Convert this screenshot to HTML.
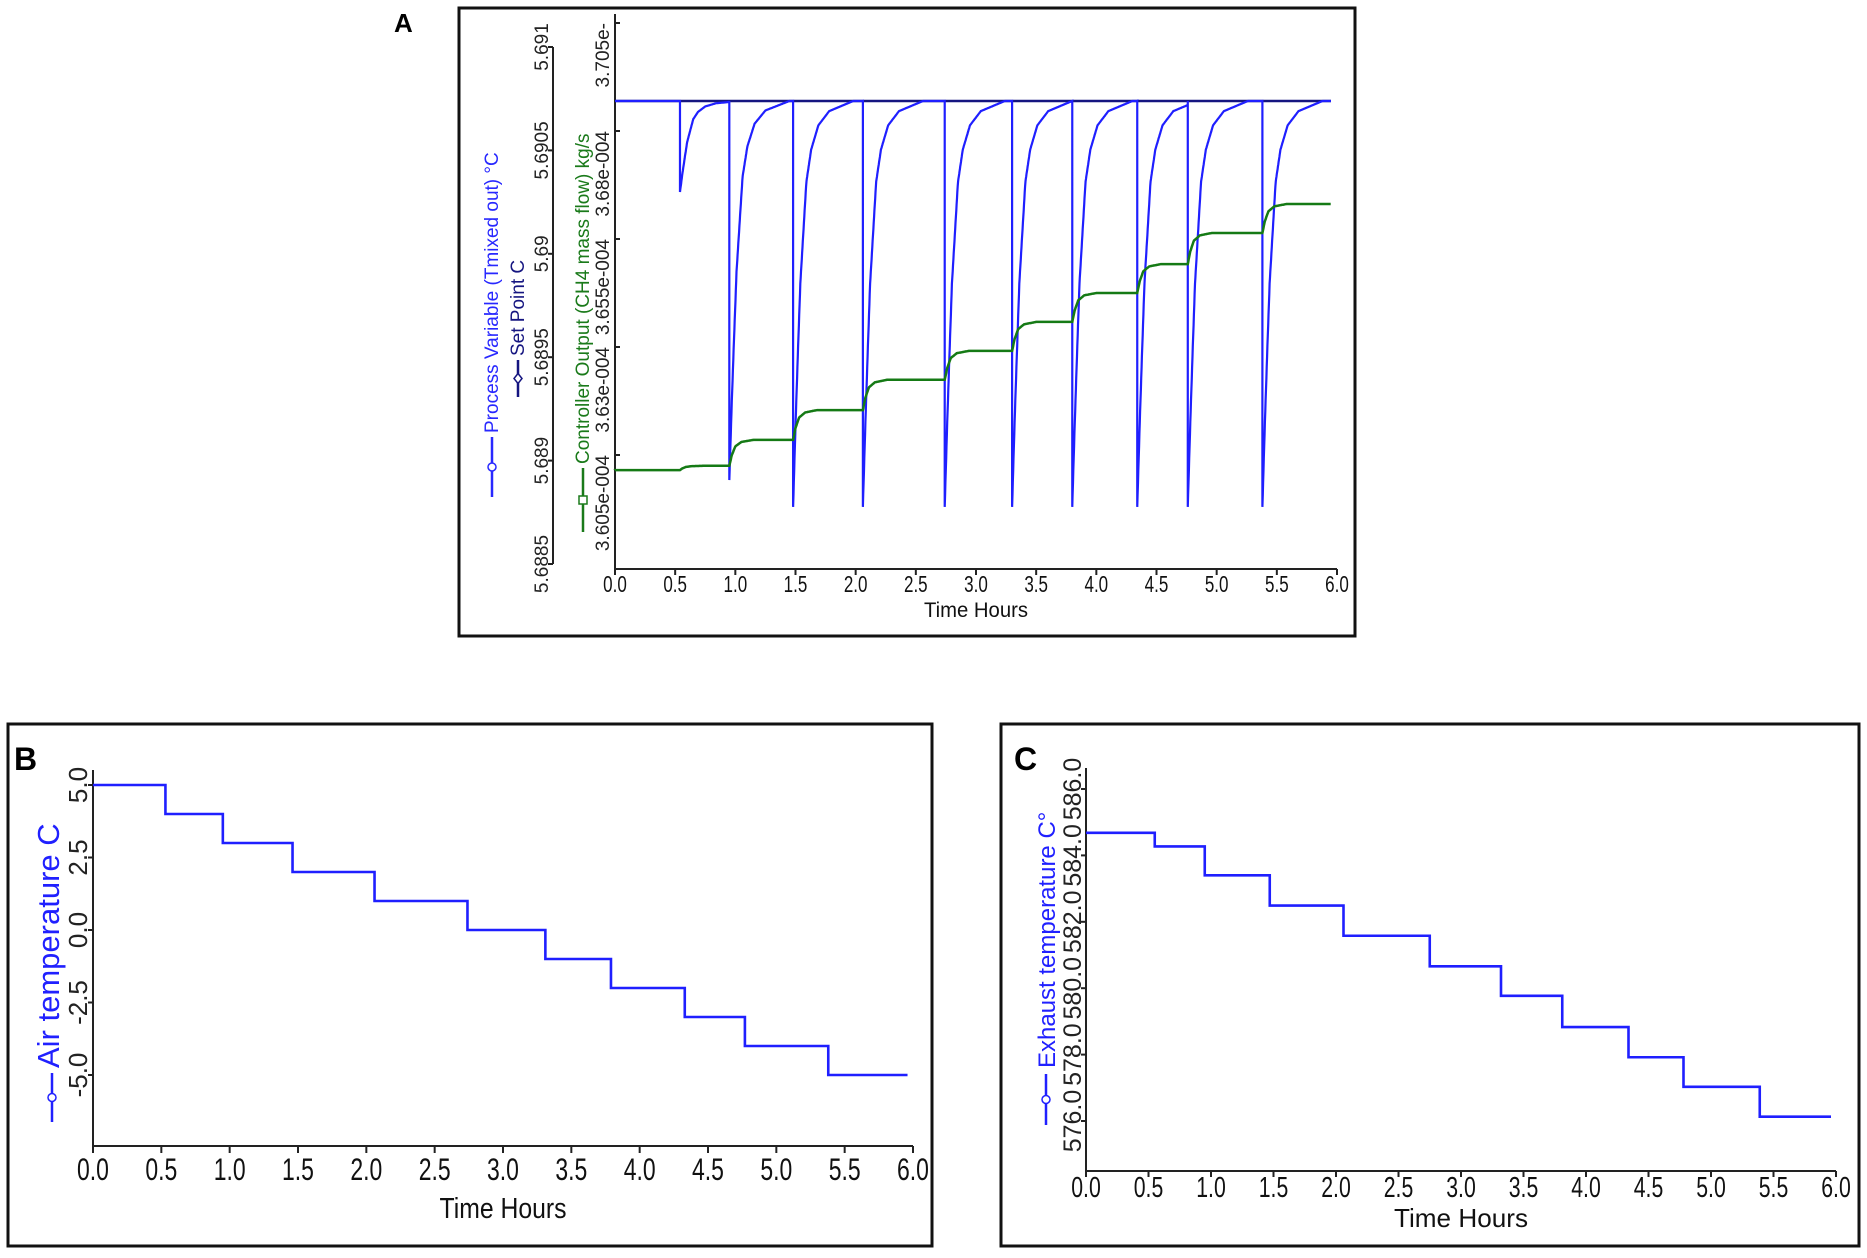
<!DOCTYPE html>
<html><head><meta charset="utf-8"><style>
html,body{margin:0;padding:0;background:#fff;overflow:hidden;}
svg{display:block;font-family:"Liberation Sans",Arial,sans-serif;}
</style></head><body>
<svg id="fig" width="1867" height="1258" viewBox="0 0 1867 1258" xmlns="http://www.w3.org/2000/svg">
<rect x="0" y="0" width="1867" height="1258" fill="#fff"/>
<g id="pA">
<rect x="459" y="8" width="896" height="628" fill="none" stroke="#111" stroke-width="3"/>
<text x="394" y="32" font-size="26" font-weight="bold">A</text>
</g>
<g id="pB">
<rect x="8" y="724" width="924" height="522" fill="none" stroke="#111" stroke-width="3"/>
<text x="14" y="770" font-size="32" font-weight="bold">B</text>
</g>
<g id="pC">
<rect x="1001" y="724" width="858" height="522" fill="none" stroke="#111" stroke-width="3"/>
<text x="1014" y="770" font-size="32" font-weight="bold">C</text>
</g>
</svg>
<script>
// ---- Panel A data ----
const eventTimes = [0.54, 0.95, 1.48, 2.06, 2.74, 3.30, 3.80, 4.34, 4.76, 5.38];
const pvDipMins = [5.690299, 5.688906, 5.688776, 5.688776, 5.688776, 5.688776, 5.688776, 5.688776, 5.688776, 5.688776];
const setPoint = 5.690739;
const recovT = [0, 0.01, 0.02, 0.04, 0.06, 0.09, 0.11, 0.15, 0.21, 0.30, 0.5];
const recovFrac = [1, 0.9, 0.8, 0.62, 0.45, 0.3, 0.2, 0.12, 0.06, 0.025, 0.0];
const greenLevels = [3.6015, 3.6025, 3.6085, 3.6154, 3.6224, 3.6291, 3.6358, 3.6425, 3.6492, 3.6564, 3.6631];
const riseT = [0, 0.02, 0.05, 0.1, 0.2];
const riseFrac = [0, 0.4, 0.75, 0.92, 1];
const xTicks = ["0.0","0.5","1.0","1.5","2.0","2.5","3.0","3.5","4.0","4.5","5.0","5.5","6.0"];
const pvTickLabels = ["5.6885","5.689","5.6895","5.69","5.6905","5.691"];
const pvTickVals = [5.6885, 5.689, 5.6895, 5.69, 5.6905, 5.691];
const coTickLabels = ["3.605e-004","3.63e-004","3.655e-004","3.68e-004","3.705e-"];
const coTickVals = [3.605, 3.63, 3.655, 3.68, 3.705];
const endTime = 5.95;
// ---- Panel B data ----
const bTimes = [0, 0.53, 0.95, 1.46, 2.06, 2.74, 3.31, 3.79, 4.33, 4.77, 5.38];
const bLevels = [5, 4, 3, 2, 1, 0, -1, -2, -3, -4, -5];
const bEnd = 5.96;
const bTickLabels = ["5.0","2.5","0.0","-2.5","-5.0"];
const bTickVals = [5, 2.5, 0, -2.5, -5];
// ---- Panel C data ----
const cTimes = [0, 0.55, 0.95, 1.47, 2.06, 2.75, 3.32, 3.81, 4.34, 4.78, 5.39];
const cLevels = [584.68, 584.27, 583.40, 582.49, 581.58, 580.66, 579.77, 578.83, 577.92, 577.03, 576.13];
const cEnd = 5.96;
const cTickLabels = ["576.0","578.0","580.0","582.0","584.0","586.0"];
const cTickVals = [576, 578, 580, 582, 584, 586];

const NS = "http://www.w3.org/2000/svg";
const svg = document.getElementById('fig');
function mk(tag, attrs, parent) {
  const e = document.createElementNS(NS, tag);
  for (const k in attrs) e.setAttribute(k, attrs[k]);
  (parent || svg).appendChild(e);
  return e;
}
function interp(xs, ys, x) {
  if (x <= xs[0]) return ys[0];
  for (let i = 1; i < xs.length; i++) if (x <= xs[i]) {
    const f = (x - xs[i-1]) / (xs[i] - xs[i-1]);
    return ys[i-1] + f * (ys[i] - ys[i-1]);
  }
  return ys[ys.length - 1];
}
function vtext(x, y, str, size, color, anchor, name, parent) {
  const t = mk('text', {x: 0, y: 0, 'font-size': size, fill: color, 'text-anchor': anchor,
    transform: `translate(${x},${y}) rotate(-90)`}, parent);
  t.textContent = str;
  
  
  return t;
}
function xAxis(g, x0, x1, y, tickLen, lblY, size, titleY, titleSize, titleLen, prefix) {
  const ax = mk('line', {x1: x0, y1: y, x2: x1, y2: y, stroke: '#222', 'stroke-width': 2}, g);
  
  
  xTicks.forEach((lab, i) => {
    const x = x0 + (x1 - x0) * (i / (xTicks.length - 1));
    const tk = mk('line', {x1: x, y1: y, x2: x, y2: y + tickLen, stroke: '#222', 'stroke-width': 2}, g);
    
    
    const t = mk('text', {x: x, y: lblY, 'font-size': size, 'text-anchor': 'middle', fill: '#111',
      transform: `translate(${x},${lblY}) scale(0.85,1.15) translate(${-x},${-lblY})`}, g);
    t.textContent = lab;
    
    
  });
  const mid = (x0 + x1) / 2;
  const tt = mk('text', {x: mid, y: titleY, 'font-size': titleSize, 'text-anchor': 'middle', fill: '#111',
    textLength: titleLen, lengthAdjust: 'spacingAndGlyphs'}, g);
  tt.textContent = 'Time Hours';
  
  
}
function legendMark(g, x, yTop, yBot, color, shape, name) {
  const l = mk('line', {x1: x, y1: yTop, x2: x, y2: yBot, stroke: color, 'stroke-width': 2.5}, g);
  
  
  const ym = (yTop + yBot) / 2;
  const m = shape === 'sq' ? mk('rect', {x: x - 4, y: ym - 4, width: 8, height: 8, fill: '#fff', stroke: color, 'stroke-width': 1.5}, g)
    : shape === 'dia' ? mk('path', {d: `M${x},${ym-5}L${x+4},${ym}L${x},${ym+5}L${x-4},${ym}Z`, fill: '#fff', stroke: color, 'stroke-width': 1.5}, g)
    : mk('circle', {cx: x, cy: ym, r: 4, fill: '#fff', stroke: color, 'stroke-width': 1.5}, g);
  
  
}

// ===== Panel A =====
(function(){
  const g = document.getElementById('pA');
  const X0 = 615, X1 = 1337, Y0 = 569;
  const xs = t => X0 + (X1 - X0) * t / 6;
  const yPV = v => 564 - (v - 5.6885) * 206800;
  const yCO = v => 455 - (v - 3.605) / 0.025 * 108;
  const la = mk('line', {x1: 553, y1: 47, x2: 553, y2: 564, stroke: '#222', 'stroke-width': 2}, g);
  
  
  pvTickVals.forEach((v, i) => {
    const y = yPV(v);
    const tk = mk('line', {x1: 548, y1: y, x2: 553, y2: y, stroke: '#222', 'stroke-width': 2}, g);
    
    
    vtext(548, y, pvTickLabels[i], 19, '#222', 'middle', 'pv-y-tick-label', g);
  });
  const ma = mk('line', {x1: X0, y1: 14, x2: X0, y2: Y0, stroke: '#222', 'stroke-width': 2}, g);
  
  
  coTickVals.forEach((v, i) => {
    const y = yCO(v);
    const tk = mk('line', {x1: X0, y1: y, x2: X0 + 5, y2: y, stroke: '#222', 'stroke-width': 2}, g);
    
    
    vtext(609, y, coTickLabels[i], 19, '#222', 'end', 'co-y-tick-label', g);
  });
  xAxis(g, X0, X1, Y0, 6, 592, 20, 617, 21, 104, 'a');
  vtext(498, 433, 'Process Variable (Tmixed out) °C', 19, '#2828ff', 'start', 'legend-process-variable', g);
  legendMark(g, 492, 437, 497, '#2828ff', 'circ', 'legend-process-variable-line');
  vtext(524, 356, 'Set Point C', 19, '#151580', 'start', 'legend-set-point', g);
  legendMark(g, 518, 360, 397, '#151580', 'dia', 'legend-set-point-line');
  vtext(589, 464, 'Controller Output (CH4 mass flow)  kg/s', 19, '#1a7a1a', 'start', 'legend-controller-output', g);
  legendMark(g, 583, 468, 532, '#1a7a1a', 'sq', 'legend-controller-output-line');
  const sp = mk('line', {x1: X0, y1: yPV(setPoint), x2: xs(endTime), y2: yPV(setPoint), stroke: '#151580', 'stroke-width': 2.5}, g);
  
  
  let d = `M${X0},${yPV(setPoint)}`;
  eventTimes.forEach((te, i) => {
    const next = i + 1 < eventTimes.length ? eventTimes[i+1] : endTime;
    const depth = setPoint - pvDipMins[i];
    d += `L${xs(te)},${yPV(setPoint)}L${xs(te)},${yPV(pvDipMins[i])}`;
    for (let t = te + 0.003; t <= next + 1e-9; t += 0.003) {
      const v = setPoint - depth * interp(recovT, recovFrac, t - te);
      d += `L${xs(t).toFixed(1)},${yPV(v).toFixed(1)}`;
    }
  });
  const pv = mk('path', {d: d, fill: 'none', stroke: '#1f1fff', 'stroke-width': 2.2}, g);
  
  
  const bounds = [0].concat(eventTimes);
  let dg = `M${X0},${yCO(greenLevels[0])}`;
  bounds.forEach((tb, i) => {
    const next = i + 1 < bounds.length ? bounds[i+1] : endTime;
    const prev = i > 0 ? greenLevels[i-1] : greenLevels[0];
    for (let t = tb; t <= next + 1e-9; t += 0.004) {
      const v = prev + (greenLevels[i] - prev) * interp(riseT, riseFrac, t - tb);
      dg += `L${xs(t).toFixed(1)},${yCO(v).toFixed(1)}`;
    }
  });
  const co = mk('path', {d: dg, fill: 'none', stroke: '#157a15', 'stroke-width': 2.5}, g);
  
  
})();

// ===== Panel B =====
(function(){
  const g = document.getElementById('pB');
  const X0 = 93, X1 = 913, Y0 = 1146;
  const xs = t => X0 + (X1 - X0) * t / 6;
  const ys = v => 930 - v * 29;
  const ya = mk('line', {x1: X0, y1: 770, x2: X0, y2: Y0, stroke: '#222', 'stroke-width': 2}, g);
  
  
  bTickVals.forEach((v, i) => {
    const y = ys(v);
    const tk = mk('line', {x1: X0 - 5, y1: y, x2: X0, y2: y, stroke: '#222', 'stroke-width': 2}, g);
    
    
    vtext(87, y, bTickLabels[i], 26, '#222', 'middle', 'b-y-tick-label', g);
  });
  xAxis(g, X0, X1, Y0, 7, 1180, 27, 1218, 29, 127, 'b');
  vtext(59, 1068, 'Air temperature C', 31, '#2020ff', 'start', 'b-y-axis-title', g);
  legendMark(g, 52, 1073, 1122, '#2020ff', 'circ', 'b-legend-line');
  let d = '';
  bTimes.forEach((tb, i) => {
    const next = i + 1 < bTimes.length ? bTimes[i+1] : bEnd;
    d += (i === 0 ? 'M' : 'L') + `${xs(tb)},${ys(bLevels[i])}L${xs(next)},${ys(bLevels[i])}`;
  });
  const p = mk('path', {d: d, fill: 'none', stroke: '#1f1fff', 'stroke-width': 2.6}, g);
  
  
})();

// ===== Panel C =====
(function(){
  const g = document.getElementById('pC');
  const X0 = 1086, X1 = 1836, Y0 = 1171;
  const xs = t => X0 + (X1 - X0) * t / 6;
  const ys = v => 1121 - (v - 576) * 33.2;
  const ya = mk('line', {x1: X0, y1: 768, x2: X0, y2: Y0, stroke: '#222', 'stroke-width': 2}, g);
  
  
  cTickVals.forEach((v, i) => {
    const y = ys(v);
    const tk = mk('line', {x1: X0 - 5, y1: y, x2: X0, y2: y, stroke: '#222', 'stroke-width': 2}, g);
    
    
    vtext(1081, y, cTickLabels[i], 25, '#222', 'middle', 'c-y-tick-label', g);
  });
  xAxis(g, X0, X1, Y0, 6, 1197, 25, 1227, 26, 134, 'c');
  vtext(1055, 1068, 'Exhaust temperature C°', 24, '#2020ff', 'start', 'c-y-axis-title', g);
  legendMark(g, 1046, 1074, 1125, '#2020ff', 'circ', 'c-legend-line');
  let d = '';
  cTimes.forEach((tb, i) => {
    const next = i + 1 < cTimes.length ? cTimes[i+1] : cEnd;
    d += (i === 0 ? 'M' : 'L') + `${xs(tb)},${ys(cLevels[i])}L${xs(next)},${ys(cLevels[i])}`;
  });
  const p = mk('path', {d: d, fill: 'none', stroke: '#1f1fff', 'stroke-width': 2.6}, g);
  
  
})();
</script>
</body></html>
